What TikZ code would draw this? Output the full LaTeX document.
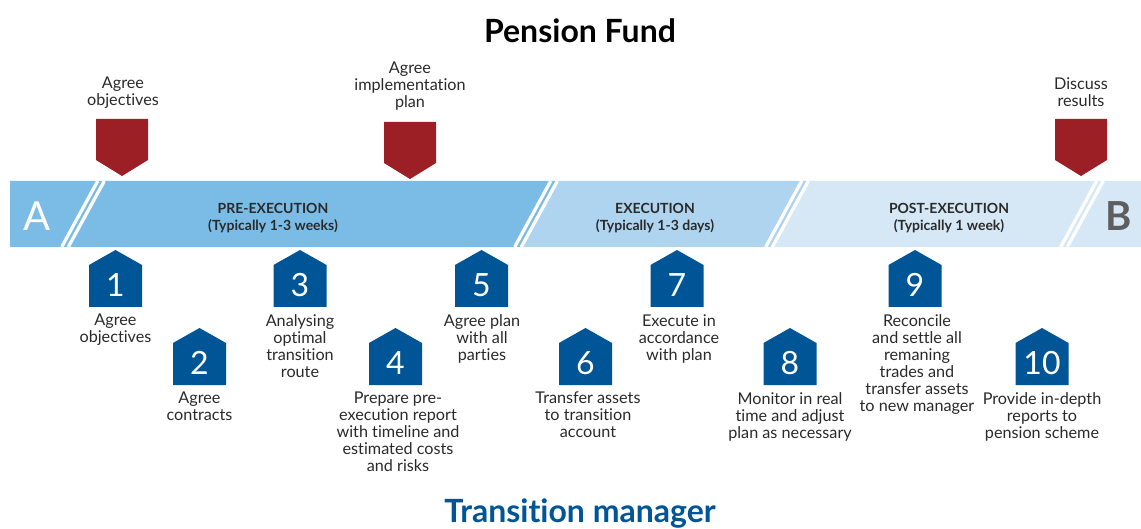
\documentclass[tikz,border=0pt]{standalone}
\usepackage{fontspec}
\setmainfont{Lato}[Ligatures={NoCommon}]
\definecolor{colPre}{HTML}{7ABCE6}
\definecolor{colExec}{HTML}{AFD4EF}
\definecolor{colPost}{HTML}{D6E8F6}
\definecolor{markred}{HTML}{9B1F24}
\definecolor{stepblue}{HTML}{005596}
\definecolor{txt}{HTML}{2A2A2A}
\definecolor{bgray}{HTML}{5E5E5E}
\tikzset{
  lbl/.style={align=center, inner sep=0pt, anchor=north, text=txt, font=\fontsize{16.2}{17}\selectfont},
  phase/.style={align=center, inner sep=0pt, text=txt, font=\bfseries\fontsize{14}{17}\selectfont},
  num/.style={inner sep=0pt, text=white, font=\fontsize{32}{32}\selectfont},
  divider/.style={draw=white, line width=3.3pt},
}
\newcommand\stepbox[4]{% name, cx, peak y, number
  \fill[stepblue] (#2-26.5,#3+15) -- (#2,#3) -- (#2+26.5,#3+15) -- (#2+26.5,#3+57) -- (#2-26.5,#3+57) -- cycle;
  \node[num] (#1) at (#2,#3+35) {#4};
}
\newcommand\redmark[3]{% name, cx, top y
  \fill[markred] (#2-26,#3) -- (#2+26,#3) -- (#2+26,#3+41) -- (#2,#3+57) -- (#2-26,#3+41) -- cycle;
  \coordinate (#1) at (#2,#3);
}
\begin{document}
\begin{tikzpicture}[x=1pt,y=-1pt]
\useasboundingbox (0,0) rectangle (1141,529);
% bar
\fill[colPre]  (10,181) -- (556,181) -- (520,247) -- (10,247) -- cycle;
\fill[colExec] (556,181) -- (807,181) -- (771,247) -- (520,247) -- cycle;
\fill[colPost] (807,181) -- (1141,181) -- (1141,247) -- (771,247) -- cycle;
\foreach \c in {83,536,787,1082}{
  \draw[divider] (\c+18-3.3,181) -- (\c-18-3.3,247);
  \draw[divider] (\c+18+3.3,181) -- (\c-18+3.3,247);
}
\node[inner sep=0pt, text=white, font=\fontsize{40}{40}\selectfont] (A) at (37,216) {A};
\node[inner sep=0pt, text=bgray, font=\bfseries\fontsize{40}{40}\selectfont] (B) at (1119,216) {B};
\node[phase] (pre) at (273,218) {PRE-EXECUTION\\(Typically 1-3 weeks)};
\node[phase] (exe) at (655,218) {EXECUTION\\(Typically 1-3 days)};
\node[phase] (post) at (949,218) {POST-EXECUTION\\(Typically 1 week)};
% title
\node[inner sep=0pt, font=\bfseries\fontsize{32}{32}\selectfont, text=black] (title) at (580,31) {Pension Fund};
\node[inner sep=0pt, font=\bfseries\fontsize{32}{32}\selectfont, text=stepblue, anchor=base] (tm) at (580,522) {Transition manager};
% red markers
\redmark{m1}{122}{119}
\redmark{m2}{410}{122}
\redmark{m3}{1081}{119}
\node[lbl, anchor=south] (t1) at (123,109) {Agree\\objectives};
\node[lbl, anchor=south] (t2) at (410,110) {Agree\\implementation\\plan};
\node[lbl, anchor=south] (t3) at (1081,107) {Discuss\\results};
% steps
\stepbox{s1}{115.5}{250}{1}
\stepbox{s2}{199.5}{328}{2}
\stepbox{s3}{300}{250}{3}
\stepbox{s4}{395.5}{328}{4}
\stepbox{s5}{481.5}{250}{5}
\stepbox{s6}{585.5}{328}{6}
\stepbox{s7}{677}{250}{7}
\stepbox{s8}{790}{328}{8}
\stepbox{s9}{915}{250}{9}
\stepbox{s10}{1042}{328}{10}
\node[lbl] (l1) at (115.5,314) {Agree\\objectives};
\node[lbl] (l2) at (199.5,392) {Agree\\contracts};
\node[lbl] (l3) at (300,314) {Analysing\\optimal\\transition\\route};
\node[lbl] (l4) at (398,392) {Prepare pre-\\execution report\\with timeline and\\estimated costs\\and risks};
\node[lbl] (l5) at (482,314) {Agree plan\\with all\\parties};
\node[lbl] (l6) at (588,392) {Transfer assets\\to transition\\account};
\node[lbl] (l7) at (679,314) {Execute in\\accordance\\with plan};
\node[lbl] (l8) at (790,392) {Monitor in real\\time and adjust\\plan as necessary};
\node[lbl] (l9) at (917,314) {Reconcile\\and settle all\\remaning\\trades and\\transfer assets\\to new manager};
\node[lbl] (l10) at (1042,392) {Provide in-depth\\reports to\\pension scheme};
\end{tikzpicture}
\end{document}
